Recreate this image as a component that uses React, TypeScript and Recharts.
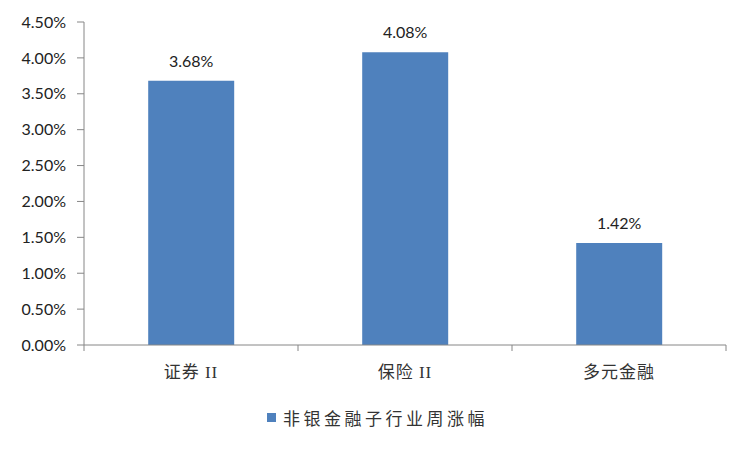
import { BarChart, Bar, XAxis, YAxis, LabelList, Legend } from 'recharts'

const categories = ['证券 II', '保险 II', '多元金融']
const weeklyGain = [3.68, 4.08, 1.42]
const yTicks = [0, 0.5, 1, 1.5, 2, 2.5, 3, 3.5, 4, 4.5]
const edgeTicks = [0, 1, 2, 3]
const seriesName = '非银金融子行业周涨幅'

const data = categories.map((name, i) => ({ name, value: weeklyGain[i], pos: i + 0.5 }))

const pct = (v: number) => `${Number(v).toFixed(2)}%`

const EdgeTick = ({ x, y }: any) => (
  <line x1={x} x2={x} y1={y} y2={y + 6} stroke="#868686" strokeWidth={1} />
)

const LegendBox = () => (
  <div style={{ display: 'flex', alignItems: 'center', fontFamily: '"Noto Sans CJK SC", sans-serif', fontSize: 17, letterSpacing: 3.5, color: '#333' }}>
    <span style={{ width: 9, height: 9, background: '#4F81BD', marginRight: 7, display: 'inline-block' }} />
    <span>{seriesName}</span>
  </div>
)

const App = () => {
  return (
    <div style={{ position: 'absolute', left: 0, top: 0 }}>
      <BarChart
        width={750}
        height={450}
        data={data}
        margin={{ top: 22, right: 24, bottom: 45, left: 0 }}
        barCategoryGap="30%"
      >
        <XAxis
          xAxisId="a"
          type="number"
          dataKey="pos"
          domain={[0, 3]}
          ticks={edgeTicks}
          interval={0}
          height={1}
          tickLine={false}
          tickSize={0}
          tickMargin={0}
          tick={<EdgeTick />}
          stroke="#868686"
        />
        <XAxis
          xAxisId="b"
          dataKey="name"
          axisLine={false}
          tickLine={false}
          tickSize={6}
          tickMargin={14}
          height={59}
          tick={{ fill: '#333', fontSize: 17, letterSpacing: 1, fontFamily: '"Liberation Serif", "Noto Sans CJK SC", serif' }}
        />
        <YAxis
          width={84}
          domain={[0, 4.5]}
          ticks={yTicks}
          interval={0}
          tickFormatter={pct}
          tickSize={7}
          tickMargin={11}
          stroke="#868686"
          tick={{ fill: '#222', fontSize: 16, fontFamily: 'Lato, "Open Sans", sans-serif' }}
        />
        <Legend
          verticalAlign="middle"
          layout="horizontal"
          content={<LegendBox />}
          wrapperStyle={{ position: 'absolute', top: 405, left: 267, width: 'auto' }}
        />
        <Bar xAxisId="b" dataKey="value" name={seriesName} fill="#4F81BD" isAnimationActive={false}>
          <LabelList
            dataKey="value"
            position="top"
            offset={14}
            formatter={pct}
            style={{ fill: '#222', fontSize: 16, fontFamily: 'Lato, "Open Sans", sans-serif' }}
          />
        </Bar>
      </BarChart>
    </div>
  )
}

export default App
